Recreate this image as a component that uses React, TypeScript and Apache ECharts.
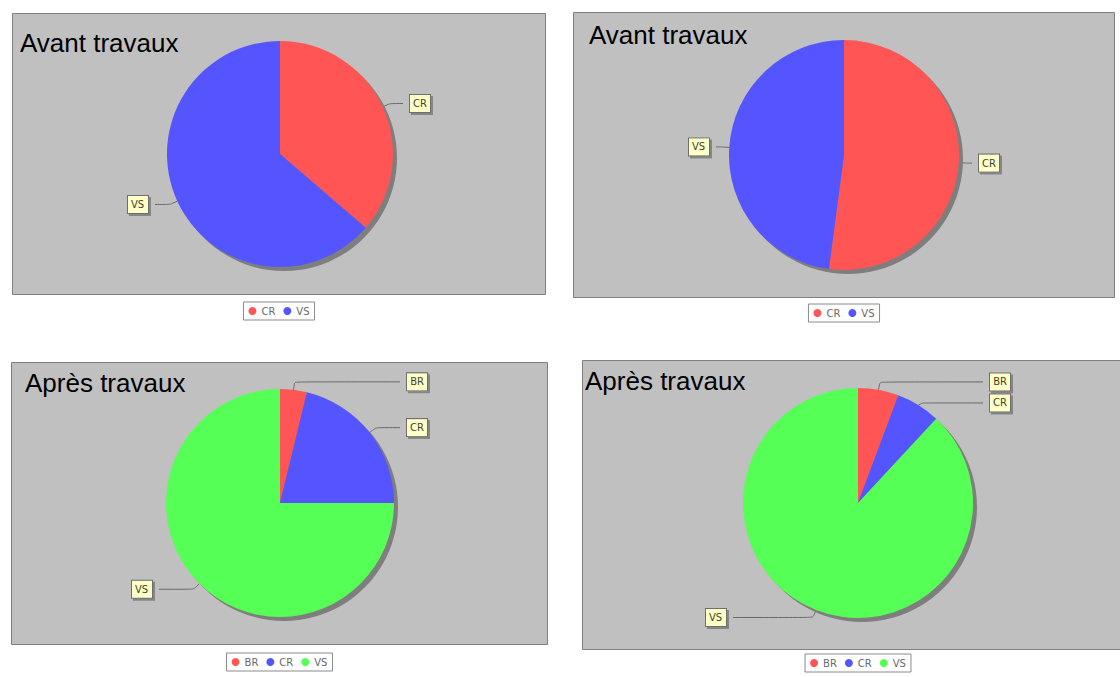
import React, { useEffect, useRef } from "react";
import * as echarts from "echarts";

// ---- data ----
const avantGaucheNames = ["CR", "VS"];
const avantGaucheValues = [36.3, 63.7];
const avantDroiteNames = ["CR", "VS"];
const avantDroiteValues = [52.1, 47.9];
const apresGaucheNames = ["BR", "CR", "VS"];
const apresGaucheValues = [3.8, 21.2, 75.0];
const apresDroiteNames = ["BR", "CR", "VS"];
const apresDroiteValues = [5.7, 6.2, 88.1];
const titleAvant = "Avant travaux";
const titleApres = "Après travaux";

// ---- styles ----
const RED = "#ff5555";
const BLUE = "#5555ff";
const GREEN = "#55ff55";

type Panel = {
  px: number; py: number; pw: number; ph: number;
  cx: number; cy: number; r: number;
  tx: number; ty: number;
  legendTop: number; ed: number;
  names: string[]; values: number[]; colors: string[]; title: string;
};

const panels: Panel[] = [
  { px: 12, py: 13, pw: 534, ph: 282, cx: 280, cy: 154, r: 113, tx: 20, ty: 42.5, legendTop: 302, ed: 116,
    names: avantGaucheNames, values: avantGaucheValues, colors: [RED, BLUE], title: titleAvant },
  { px: 573, py: 12, pw: 542, ph: 286, cx: 844, cy: 155, r: 115, tx: 589, ty: 35, legendTop: 304, ed: 116,
    names: avantDroiteNames, values: avantDroiteValues, colors: [RED, BLUE], title: titleAvant },
  { px: 11, py: 362, pw: 537, ph: 283, cx: 280, cy: 503, r: 114, tx: 25, ty: 382.5, legendTop: 653, ed: 121,
    names: apresGaucheNames, values: apresGaucheValues, colors: [RED, BLUE, GREEN], title: titleApres },
  { px: 582, py: 360, pw: 552, ph: 290, cx: 858, cy: 503, r: 115, tx: 585, ty: 381, legendTop: 654, ed: 124,
    names: apresDroiteNames, values: apresDroiteValues, colors: [RED, BLUE, GREEN], title: titleApres },
];

const M = 2;

function buildOption(p: Panel) {
  const ccx = p.cx - p.px;
  const ccy = p.cy - p.py;
  return {
    animation: false,
    graphic: [
      {
        type: "rect",
        silent: true,
        z: 0,
        shape: { x: M + 0.5, y: M + 0.5, width: p.pw - 1, height: p.ph - 1 },
        style: { fill: "#c0c0c0", stroke: "#7f7f7f", lineWidth: 1 },
      },
      {
        type: "text",
        silent: true,
        z: 1,
        x: M + p.tx - p.px,
        y: M + p.ty - p.py,
        style: {
          text: p.title,
          font: '26px "Liberation Sans", Arial, sans-serif',
          fill: "#000000",
          verticalAlign: "middle",
          align: "left",
        },
      },
    ],
    legend: {
      data: p.names,
      left: "center",
      top: M + p.legendTop - p.py,
      icon: "circle",
      itemWidth: 8,
      itemHeight: 8,
      itemGap: 8,
      padding: [4, 5],
      borderColor: "#8a8a8a",
      borderWidth: 1,
      backgroundColor: "#ffffff",
      selectedMode: false,
      textStyle: { fontSize: 10, color: "#6a6a6a", fontFamily: "DejaVu Sans" },
    },
    series: [
      {
        type: "pie",
        silent: true,
        left: M, top: M, width: p.pw, height: p.ph,
        center: [ccx + 4, ccy + 4],
        radius: p.r,
        label: { show: false },
        labelLine: { show: false },
        emphasis: { disabled: true },
        data: [{ name: "", value: 1, itemStyle: { color: "#7e7e7e" } }],
      },
      {
        type: "pie",
        silent: true,
        left: M, top: M, width: p.pw, height: p.ph,
        center: [ccx, ccy],
        radius: p.r,
        startAngle: 90,
        clockwise: true,
        emphasis: { disabled: true },
        label: {
          show: true,
          formatter: "{b}",
          alignTo: "edge",
          edgeDistance: p.ed,
          width: 14,
          overflow: "none",
          align: "center",
          fontSize: 10,
          lineHeight: 11,
          fontFamily: "DejaVu Sans",
          color: "#44442e",
          backgroundColor: "#ffffc8",
          borderColor: "#6e6e6e",
          borderWidth: 1,
          padding: [3, 3],
          shadowColor: "rgba(0,0,0,0.3)",
          shadowOffsetX: 2,
          shadowOffsetY: 2,
          shadowBlur: 1,
        },
        labelLine: {
          show: true,
          length: 8,
          length2: 10,
          smooth: 0.2,
          lineStyle: { color: "#686868", width: 1 },
        },
        data: p.names.map((n, i) => ({ name: n, value: p.values[i], itemStyle: { color: p.colors[i] } })),
      },
    ],
  };
}

function PieBox({ p }: { p: Panel }) {
  const ref = useRef<HTMLDivElement>(null);
  useEffect(() => {
    const chart = echarts.init(ref.current!, null, { renderer: "svg" });
    chart.setOption(buildOption(p) as any);
    return () => chart.dispose();
  }, []);
  return (
    <div
      ref={ref}
      style={{
        position: "absolute",
        left: p.px - M,
        top: p.py - M,
        width: p.pw + 2 * M,
        height: p.legendTop - p.py + 30,
      }}
    />
  );
}

export default function App() {
  return (
    <div
      style={{
        position: "absolute",
        left: 0,
        top: 0,
        width: 1120,
        height: 677,
        overflow: "hidden",
        background: "#ffffff",
      }}
    >
      {panels.map((p, i) => (
        <PieBox key={i} p={p} />
      ))}
    </div>
  );
}
